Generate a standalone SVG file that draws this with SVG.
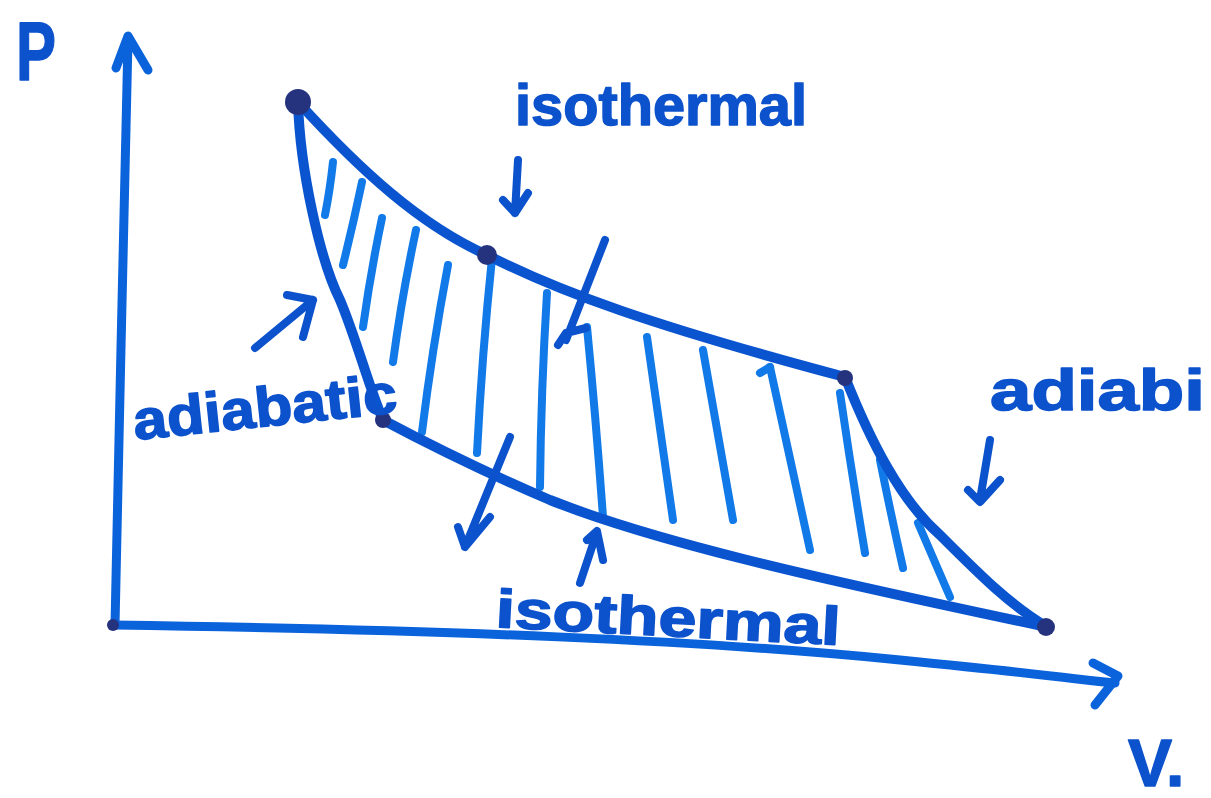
<svg xmlns="http://www.w3.org/2000/svg" width="1211" height="798" viewBox="0 0 1211 798">
  <style>
    .axis { fill: none; stroke: #0b63dc; stroke-width: 9; stroke-linecap: round; stroke-linejoin: round; }
    .curve { fill: none; stroke: #0a55cf; stroke-width: 10; stroke-linecap: round; stroke-linejoin: round; }
    .hatch { fill: none; stroke: #127ae8; stroke-width: 8; stroke-linecap: round; }
    .arrow { fill: none; stroke: #0b52cc; stroke-width: 8; stroke-linecap: round; stroke-linejoin: round; }
    .dot { fill: #25337e; }
    .lbl { font-family: "Liberation Sans", Arial, sans-serif; font-weight: bold; fill: #0c52cc; stroke: #0c52cc; stroke-width: 1.5; stroke-linejoin: round; }
  </style>
  <rect width="1211" height="798" fill="#ffffff"/>

  <g id="axes">
    <path class="axis" d="M115,625 C118,450 125,200 128,40"/>
    <path class="axis" d="M116,68 L128,36 L148,70"/>
    <path class="axis" d="M113,625 C450,630 700,640 900,660 S1060,678 1115,683"/>
    <path class="axis" d="M1093,663 L1118,676 L1095,705"/>
    <circle class="dot" cx="113" cy="625" r="6"/>
  </g>

  <g id="hatching">
    <path class="hatch" d="M333,162 Q330,190 325,215"/>
    <path class="hatch" d="M362,182 Q353,225 343,265"/>
    <path class="hatch" d="M382,218 Q371,270 363,327"/>
    <path class="hatch" d="M416,230 Q402,295 393,362"/>
    <path class="hatch" d="M448,265 Q432,350 422,432"/>
    <path class="hatch" d="M492,258 Q482,355 477,453"/>
    <path class="hatch" d="M547,293 Q541,390 540,487"/>
    <path class="hatch" d="M587,327 Q596,420 603,517"/>
    <path class="hatch" d="M647,337 Q660,430 673,520"/>
    <path class="hatch" d="M703,350 Q718,435 733,520"/>
    <path class="hatch" d="M770,367 Q790,460 810,550"/>
    <path class="hatch" d="M760,373 L770,367"/>
    <path class="hatch" d="M840,393 Q852,475 865,553"/>
    <path class="hatch" d="M880,460 Q891,515 903,568"/>
    <path class="hatch" d="M918,523 Q934,560 950,597"/>
  </g>

  <g id="cycle">
    <path id="isotherm-upper" class="curve" d="M298,102 C360,170 420,225 487,255 C560,292 650,325 845,377"/>
    <path id="adiabat-right" class="curve" d="M845,377 C870,440 900,500 940,535 C980,575 1010,605 1047,627"/>
    <path id="isotherm-lower" class="curve" d="M1047,627 C800,575 650,540 550,500 C480,470 430,445 383,420"/>
    <path id="adiabat-left" class="curve" d="M383,420 C370,390 355,335 340,300 C320,260 300,170 298,102"/>
  </g>

  <g id="points">
    <circle class="dot" cx="298" cy="102" r="13"/>
    <circle class="dot" cx="487" cy="255" r="10"/>
    <circle class="dot" cx="845" cy="378" r="8"/>
    <circle class="dot" cx="1046" cy="627" r="9"/>
    <circle class="dot" cx="383" cy="420" r="8"/>
  </g>

  <g id="connectors">
    <path class="arrow" d="M518,160 L515,213 M503,200 L515,213 L528,193"/>
    <path class="arrow" d="M255,348 L313,300 M287,295 L313,300 L303,337"/>
    <path class="arrow" d="M605,240 L566,340 M558,345 L566,333 L586,328"/>
    <path class="arrow" d="M510,437 L465,547 M458,527 L465,547 L490,517"/>
    <path class="arrow" d="M580,583 L597,532 M587,540 L597,531 L603,560"/>
    <path class="arrow" d="M990,440 L980,500 M968,490 L980,502 L1000,480"/>
  </g>

  <g id="labels">
    <text class="lbl" x="16" y="80" font-size="84" textLength="40" lengthAdjust="spacingAndGlyphs">P</text>
    <text class="lbl" x="1128" y="786" font-size="66">V.</text>
    <text class="lbl" x="515" y="125" font-size="58" textLength="292" lengthAdjust="spacingAndGlyphs">isothermal</text>
    <text class="lbl" x="135" y="440" font-size="56" textLength="265" lengthAdjust="spacingAndGlyphs" transform="rotate(-6 135 440)">adiabatic</text>
    <text class="lbl" x="495" y="627" font-size="54" textLength="345" lengthAdjust="spacingAndGlyphs" transform="rotate(3 495 627)">isothermal</text>
    <text class="lbl" x="990" y="410" font-size="58" textLength="215" lengthAdjust="spacingAndGlyphs">adiabi</text>
  </g>
</svg>
